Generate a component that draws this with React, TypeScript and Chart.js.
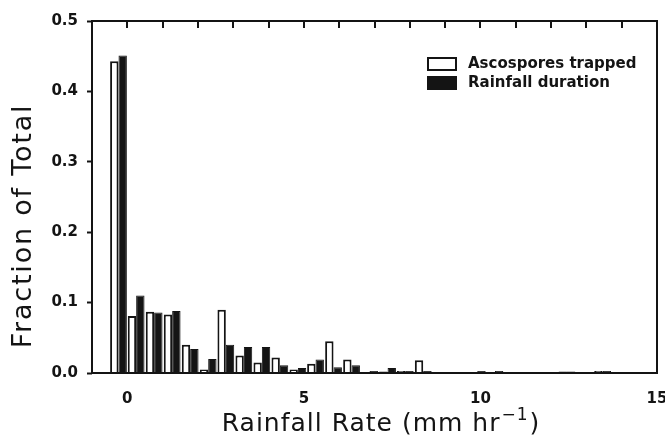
import React, { useEffect, useRef } from "react";
import { Chart, registerables } from "chart.js";

Chart.register(...registerables);

// ---- data ----
// bin centres (mm/hr), bins 0.02 in/hr wide
const rateBins = [
  -0.25, 0.25, 0.76, 1.27, 1.78, 2.29, 2.79, 3.30, 3.81, 4.32,
  4.83, 5.33, 5.84, 6.35, 6.86, 7.37, 7.87, 8.38, 8.89, 9.40,
  9.91, 10.41, 10.92, 11.43, 11.94, 12.45, 12.95, 13.46, 13.97, 14.48,
];
const ascospores = [
  0.443, 0.081, 0.087, 0.083, 0.040, 0.005, 0.090, 0.025, 0.015, 0.022,
  0.005, 0.013, 0.045, 0.019, 0.001, 0.002, 0.003, 0.018, 0.0, 0.0,
  0.0, 0.0, 0.0, 0.0, 0.0, 0.002, 0.0, 0.003, 0.0, 0.0,
];
const rainfall = [
  0.451, 0.110, 0.086, 0.088, 0.034, 0.020, 0.040, 0.037, 0.037, 0.011,
  0.007, 0.019, 0.008, 0.011, 0.003, 0.007, 0.003, 0.003, 0.0, 0.0,
  0.003, 0.003, 0.0, 0.0, 0.0, 0.002, 0.0, 0.003, 0.0, 0.0,
];
const seriesLabels = ["Ascospores trapped", "Rainfall duration"];
const xTickLabels = [0, 5, 10, 15];
const xMinorTicks = [0, 1, 2, 3, 4, 5, 6, 7, 8, 9, 10, 11, 12, 13, 14];
const yTickLabels = [0, 0.1, 0.2, 0.3, 0.4, 0.5];
const xTitleMain = "Rainfall Rate (mm hr";
const xTitleSup = "\u22121";
const xTitleEnd = ")";
const yTitle = "Fraction of Total";

const INK = "#141414";
const FONT = "'DejaVu Sans', sans-serif";

const decorPlugin = {
  id: "decor",
  afterDraw(chart: any) {
    const { ctx, chartArea: a, scales } = chart;
    ctx.save();
    // frame
    ctx.strokeStyle = INK;
    ctx.lineWidth = 2;
    ctx.strokeRect(a.left, a.top, a.right - a.left, a.bottom - a.top);
    // inward ticks along the top spine
    for (const v of xMinorTicks) {
      const px = Math.round(scales.x.getPixelForValue(v));
      ctx.beginPath();
      ctx.moveTo(px, a.top);
      ctx.lineTo(px, a.top + 7);
      ctx.stroke();
    }
    // legend
    const ds = chart.data.datasets;
    const lx = 428;
    const ly = [58, 77];
    ctx.font = `bold 15px ${FONT}`;
    ctx.textBaseline = "middle";
    ctx.textAlign = "left";
    ds.forEach((d: any, i: number) => {
      ctx.fillStyle = d.backgroundColor;
      ctx.fillRect(lx, ly[i], 28, 12);
      ctx.lineWidth = 2;
      ctx.strokeStyle = INK;
      ctx.strokeRect(lx, ly[i], 28, 12);
      ctx.fillStyle = INK;
      ctx.fillText(d.label, lx + 40, ly[i] + 6);
    });
    // x title with superscript
    ctx.fillStyle = INK;
    (ctx as any).letterSpacing = "1px";
    ctx.font = `25px ${FONT}`;
    const wMain = ctx.measureText(xTitleMain).width;
    const wEnd = ctx.measureText(xTitleEnd).width;
    ctx.font = `17px ${FONT}`;
    const wSup = ctx.measureText(xTitleSup).width;
    const total = wMain + wSup + wEnd + 2;
    const cx = 381;
    let x = cx - total / 2;
    const baseY = 431;
    ctx.textBaseline = "alphabetic";
    ctx.font = `25px ${FONT}`;
    ctx.fillText(xTitleMain, x, baseY);
    x += wMain + 1;
    ctx.font = `17px ${FONT}`;
    ctx.fillText(xTitleSup, x, baseY - 11);
    x += wSup + 1;
    ctx.font = `25px ${FONT}`;
    ctx.fillText(xTitleEnd, x, baseY);
    // y title
    ctx.save();
    (ctx as any).letterSpacing = "1.8px";
    ctx.translate(24, 226);
    ctx.rotate(-Math.PI / 2);
    ctx.font = `27px ${FONT}`;
    ctx.textAlign = "center";
    ctx.textBaseline = "middle";
    ctx.fillText(yTitle, 0, 0);
    ctx.restore();
    ctx.restore();
  },
};

export default function App() {
  const ref = useRef<HTMLCanvasElement | null>(null);
  useEffect(() => {
    if (!ref.current) return;
    Chart.defaults.font.family = FONT;
    const chart = new Chart(ref.current, {
      type: "bar",
      data: {
        datasets: [
          {
            label: seriesLabels[0],
            data: rateBins.map((x, i) => ({ x, y: ascospores[i] })),
            backgroundColor: "#ffffff",
            borderColor: INK,
            borderWidth: 2,
            borderSkipped: "start",
            barPercentage: 1,
            categoryPercentage: 0.95,
          },
          {
            label: seriesLabels[1],
            data: rateBins.map((x, i) => ({ x, y: rainfall[i] })),
            backgroundColor: INK,
            borderColor: INK,
            borderWidth: 1,
            borderSkipped: "start",
            barPercentage: 1,
            categoryPercentage: 0.95,
          },
        ] as any,
      },
      options: {
        animation: false,
        responsive: false,
        devicePixelRatio: 1,
        layout: { padding: { top: 21, right: 8, left: 0, bottom: 0 } },
        plugins: { legend: { display: false }, tooltip: { enabled: false } },
        scales: {
          x: {
            type: "linear",
            min: -1,
            max: 15,
            offset: false,
            grid: { display: false, offset: false },
            border: { display: false },
            afterBuildTicks: (s: any) => {
              s.ticks = xTickLabels.map((v) => ({ value: v }));
            },
            afterFit: (s: any) => {
              s.height = 440 - 373;
              s.paddingLeft = 0;
              s.paddingRight = 0;
            },
            ticks: {
              autoSkip: false,
              maxRotation: 0,
              padding: 9,
              color: INK,
              font: { size: 15, weight: "bold", family: FONT },
              callback: (v: any) => String(v),
            },
          },
          y: {
            type: "linear",
            min: 0,
            max: 0.5,
            grid: {
              drawOnChartArea: false,
              tickLength: 5,
              tickColor: INK,
              tickWidth: 2,
            },
            border: { display: false },
            afterBuildTicks: (s: any) => {
              s.ticks = yTickLabels.map((v) => ({ value: v }));
            },
            afterFit: (s: any) => {
              s.width = 92;
              s.paddingTop = 0;
              s.paddingBottom = 0;
            },
            ticks: {
              padding: 9,
              color: INK,
              font: { size: 15, weight: "bold", family: FONT },
              callback: (v: any) => Number(v).toFixed(1),
            },
          },
        },
      } as any,
      plugins: [decorPlugin],
    });
    return () => chart.destroy();
  }, []);
  return (
    <div style={{ position: "fixed", left: 0, top: 0, width: 665, height: 440, background: "#fff" }}>
      <canvas ref={ref} width={665} height={440} style={{ width: 665, height: 440 }} />
    </div>
  );
}
